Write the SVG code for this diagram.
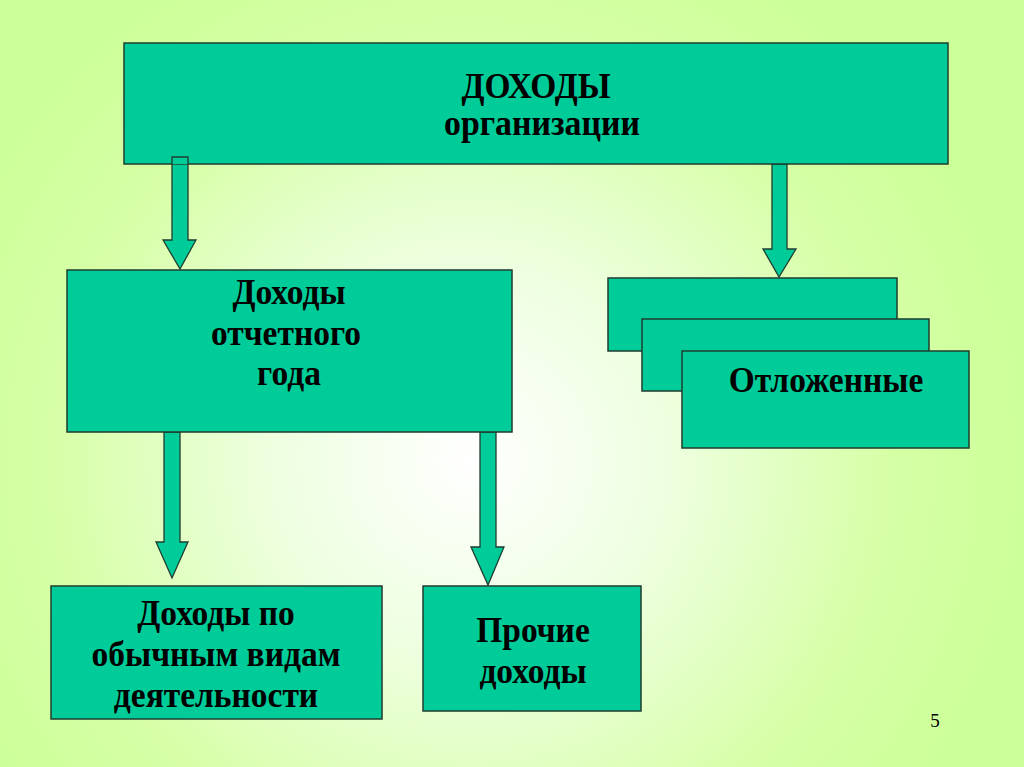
<svg xmlns="http://www.w3.org/2000/svg" width="1024" height="767" viewBox="0 0 1024 767">
<defs>
<radialGradient id="bg" cx="470" cy="460" r="560" gradientUnits="userSpaceOnUse">
<stop offset="0" stop-color="#ffffff"/>
<stop offset="0.35" stop-color="#eeffe0"/>
<stop offset="0.75" stop-color="#d6ffa6"/>
<stop offset="1" stop-color="#ccff99"/>
</radialGradient>
<style>
.box{fill:#00cc99;stroke:#1f3d30;stroke-width:1.5}
.arr{fill:#00cc99;stroke:#1f3d30;stroke-width:1.3;stroke-linejoin:miter}
.t{font-family:"Liberation Serif","Times New Roman",serif;font-weight:bold;font-size:36px;fill:#000;text-anchor:middle}
.n{font-family:"Liberation Serif","Times New Roman",serif;font-size:19px;fill:#000;text-anchor:middle}
</style>
</defs>
<rect x="0" y="0" width="1024" height="767" fill="url(#bg)"/>
<g id="connectors">
<polygon class="arr" points="172,157 188,157 188,240 196,240 180,269 163,240 172,240"/>
<polygon class="arr" points="772,164 787,164 787,249 796,249 779,277 763,249 772,249"/>
<polygon class="arr" points="164,432 180,432 180,542 188,542 172,578 156,542 164,542"/>
<polygon class="arr" points="480,432 496,432 496,547 504,547 488,585 471,547 480,547"/>
</g>
<g id="top">
<rect class="box" x="124" y="43" width="824" height="121"/>
<text class="t" transform="matrix(0.93 0 0 1 536 98)">ДОХОДЫ</text>
<text class="t" transform="matrix(0.94 0 0 1 542 135)">организации</text>
</g>
<g id="arrow-stub">
<rect x="172" y="157" width="16" height="7" fill="#00cc99"/>
<polyline points="172,164 172,157 188,157 188,164" fill="none" stroke="#1f3d30" stroke-width="1.3"/>
</g>
<g id="year">
<rect class="box" x="67" y="270" width="445" height="162"/>
<text class="t" transform="matrix(0.93 0 0 1 289 304)">Доходы</text>
<text class="t" transform="matrix(0.93 0 0 1 286 345)">отчетного</text>
<text class="t" transform="matrix(0.93 0 0 1 289 385)">года</text>
</g>
<g id="deferred">
<rect class="box" x="608" y="278" width="289" height="73"/>
<rect class="box" x="642" y="319" width="287" height="72"/>
<rect class="box" x="682" y="351" width="287" height="97"/>
<text class="t" transform="matrix(0.93 0 0 1 826 392)">Отложенные</text>
</g>
<g id="ordinary">
<rect class="box" x="51" y="586" width="331" height="133"/>
<text class="t" transform="matrix(0.93 0 0 1 216 625)">Доходы по</text>
<text class="t" transform="matrix(0.93 0 0 1 216 666)">обычным видам</text>
<text class="t" transform="matrix(0.93 0 0 1 216 707)">деятельности</text>
</g>
<g id="other">
<rect class="box" x="423" y="586" width="218" height="125"/>
<text class="t" transform="matrix(0.93 0 0 1 533 642)">Прочие</text>
<text class="t" transform="matrix(0.93 0 0 1 533 683)">доходы</text>
</g>
<text class="n" x="935" y="727">5</text>
</svg>
